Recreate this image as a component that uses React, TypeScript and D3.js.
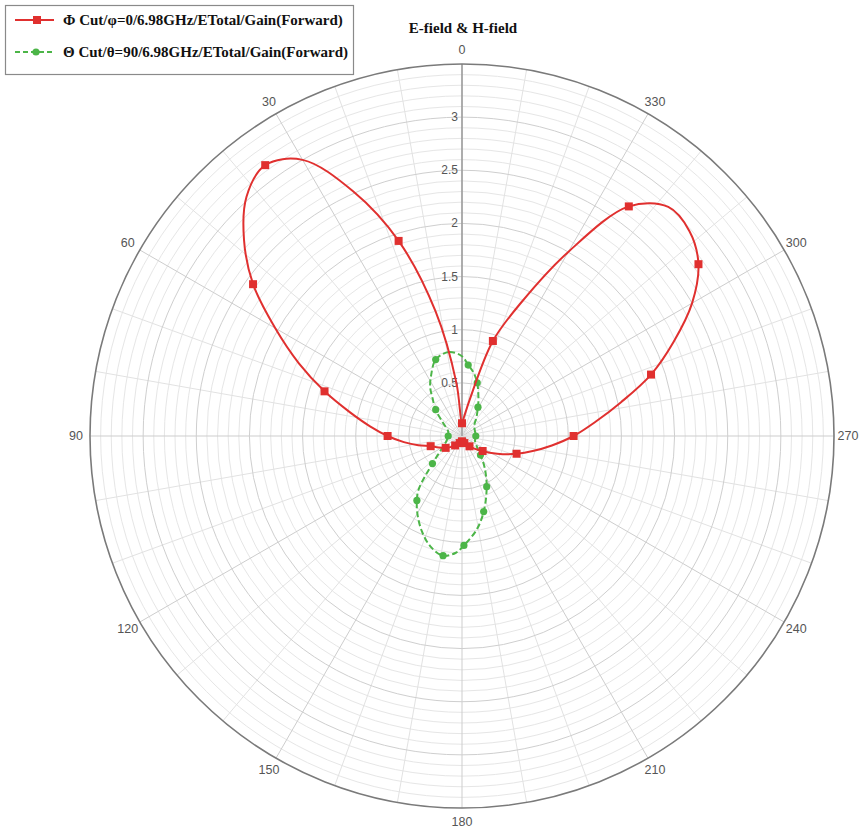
import React from 'react';
import * as d3 from 'd3';

// Canvas and polar frame
const W = 862;
const H = 828;
const CX = 462;
const CY = 436;
const R = 372;
const R_MAX = 3.5;

const TITLE = 'E-field & H-field';
const PHI_LABEL = 'Φ Cut/φ=0/6.98GHz/ETotal/Gain(Forward)';
const THETA_LABEL = 'Θ Cut/θ=90/6.98GHz/ETotal/Gain(Forward)';

// Axis ticks
const angleTicks = [0, 30, 60, 90, 120, 150, 180, 210, 240, 270, 300, 330];
const radialTicks = [0.5, 1, 1.5, 2, 2.5, 3];

// Φ cut (φ = 0): gain sampled every 6°
const phiAngles = [
  0, 6, 12, 18, 24, 30, 36, 42, 48, 54, 60, 66, 72, 78, 84, 90, 96, 102, 108, 114,
  120, 126, 132, 138, 144, 150, 156, 162, 168, 174, 180, 186, 192, 198, 204, 210, 216, 222, 228, 234,
  240, 246, 252, 258, 264, 270, 276, 282, 288, 294, 300, 306, 312, 318, 324, 330, 336, 342, 348, 354,
];
const phiGain = [
  0.12, 0.5, 1.2, 1.93, 2.52, 3.0, 3.15, 3.03, 2.76, 2.43, 2.03, 1.68, 1.36, 1.08, 0.87, 0.7, 0.55, 0.42, 0.31, 0.26,
  0.22, 0.19, 0.16, 0.13, 0.11, 0.09, 0.08, 0.07, 0.06, 0.05, 0.05, 0.05, 0.06, 0.07, 0.08, 0.1, 0.12, 0.15, 0.19, 0.24,
  0.32, 0.42, 0.54, 0.68, 0.85, 1.05, 1.26, 1.53, 1.87, 2.18, 2.5, 2.75, 2.88, 2.9, 2.67, 2.0, 1.38, 0.94, 0.35, 0.18,
];
// Markers are drawn every 18°
const phiMarkerStep = 18;

// Θ cut (θ = 90)
const thetaAngles = [
  0, 9, 19, 27, 33, 38, 45, 55, 70, 90, 110, 125, 133, 141, 145, 150, 157, 164, 171, 177,
  181, 189, 196, 206, 216, 224, 235, 250, 270, 290, 310, 322, 331, 336, 344, 350, 355,
];
const thetaGain = [
  0.75, 0.8, 0.76, 0.64, 0.55, 0.45, 0.35, 0.22, 0.14, 0.13, 0.16, 0.25, 0.38, 0.65, 0.74, 0.84, 0.97, 1.08, 1.14, 1.1,
  1.03, 0.89, 0.74, 0.53, 0.36, 0.25, 0.17, 0.13, 0.13, 0.13, 0.15, 0.22, 0.31, 0.38, 0.52, 0.61, 0.67,
];
const thetaMarked = [
  false, false, true, false, false, false, true, false, false, true, false, false, true, false, true, false, false, false, true, false,
  true, false, true, true, false, true, false, false, true, false, false, false, true, false, true, false, true,
];

const RED = '#e0302f';
const GREEN = '#4cb548';

type Pt = { a: number; v: number };

const rScale = d3.scaleLinear().domain([0, R_MAX]).range([0, R]);
const rad = (deg: number) => (deg * Math.PI) / 180;
// Angles run counter-clockwise from 12 o'clock
const px = (a: number, v: number) => CX - rScale(v) * Math.sin(rad(a));
const py = (a: number, v: number) => CY - rScale(v) * Math.cos(rad(a));

const radialLine = d3
  .lineRadial<Pt>()
  .angle((d) => -rad(d.a))
  .radius((d) => rScale(d.v))
  .curve(d3.curveCatmullRomClosed.alpha(0.5));

export default function App() {
  const phi: Pt[] = phiAngles.map((a, i) => ({ a, v: phiGain[i] }));
  const theta: Pt[] = thetaAngles.map((a, i) => ({ a, v: thetaGain[i] }));

  const minorCircles = d3.range(1, 35).map((k) => k / 10).filter((v) => Math.abs(v * 2 - Math.round(v * 2)) > 1e-6);
  const majorCircles = [0.5, 1, 1.5, 2, 2.5, 3];
  const spokes = d3.range(0, 360, 10);

  const tickFont = 'Arial, "Liberation Sans", sans-serif';
  const serif = '"Liberation Serif", "Times New Roman", serif';

  return (
    <svg
      width={W}
      height={H}
      viewBox={`0 0 ${W} ${H}`}
      style={{ position: 'absolute', left: 0, top: 0, background: '#fff' }}
    >
      <rect x={0} y={0} width={W} height={H} fill="#fff" />

      {/* grid */}
      <g fill="none">
        {minorCircles.map((v) => (
          <circle key={`m${v}`} cx={CX} cy={CY} r={rScale(v)} stroke="#e6e6e6" strokeWidth={1} />
        ))}
        {spokes.map((a) => (
          <line
            key={`s${a}`}
            x1={CX}
            y1={CY}
            x2={px(a, R_MAX)}
            y2={py(a, R_MAX)}
            stroke={a % 30 === 0 ? '#cdcdcd' : '#e2e2e2'}
            strokeWidth={1}
          />
        ))}
        {majorCircles.map((v) => (
          <circle key={`M${v}`} cx={CX} cy={CY} r={rScale(v)} stroke="#cfcfcf" strokeWidth={1} />
        ))}
        <line x1={CX} y1={CY} x2={CX} y2={CY - R} stroke="#9a9a9a" strokeWidth={1.5} />
        <circle cx={CX} cy={CY} r={R} stroke="#7a7a7a" strokeWidth={1.6} />
      </g>

      {/* angle labels */}
      <g fontFamily={tickFont} fontSize={12.5} fill="#555">
        {angleTicks.map((a) => (
          <text key={`a${a}`} x={px(a, R_MAX) - 14 * Math.sin(rad(a))} y={py(a, R_MAX) - 14 * Math.cos(rad(a))} textAnchor="middle" dominantBaseline="central">
            {a}
          </text>
        ))}
      </g>

      {/* radial labels */}
      <g fontFamily={tickFont} fontSize={12} fill="#555">
        {radialTicks.map((v) => (
          <text key={`r${v}`} x={CX - 4} y={CY - rScale(v)} textAnchor="end" dominantBaseline="central">
            {v}
          </text>
        ))}
      </g>

      {/* Θ cut */}
      <g transform={`translate(${CX},${CY})`}>
        <path d={radialLine(theta) || ''} fill="none" stroke={GREEN} strokeWidth={2} strokeDasharray="6,3" />
      </g>
      {theta.map((d, i) =>
        thetaMarked[i] ? <circle key={`tm${i}`} cx={px(d.a, d.v)} cy={py(d.a, d.v)} r={3.6} fill={GREEN} /> : null
      )}

      {/* Φ cut */}
      <g transform={`translate(${CX},${CY})`}>
        <path d={radialLine(phi) || ''} fill="none" stroke={RED} strokeWidth={2} />
      </g>
      {phi
        .filter((d) => d.a % phiMarkerStep === 0)
        .map((d) => (
          <rect key={`pm${d.a}`} x={px(d.a, d.v) - 4} y={py(d.a, d.v) - 4} width={8} height={8} fill={RED} />
        ))}

      {/* title */}
      <text x={463} y={33} textAnchor="middle" fontFamily={serif} fontWeight="bold" fontSize={15} fill="#111">
        {TITLE}
      </text>

      {/* legend */}
      <g>
        <rect x={5.5} y={5.5} width={348} height={69} fill="#fff" stroke="#8a8a8a" strokeWidth={1.2} />
        <line x1={15} y1={20} x2={54} y2={20} stroke={RED} strokeWidth={2} />
        <rect x={33} y={16} width={8} height={8} fill={RED} />
        <text x={63} y={25} fontFamily={serif} fontWeight="bold" fontSize={15} fill="#111">
          {PHI_LABEL}
        </text>
        <line x1={15} y1={52} x2={54} y2={52} stroke={GREEN} strokeWidth={2} strokeDasharray="5,3" />
        <circle cx={36} cy={52} r={3.6} fill={GREEN} />
        <text x={63} y={57} fontFamily={serif} fontWeight="bold" fontSize={15} fill="#111">
          {THETA_LABEL}
        </text>
      </g>
    </svg>
  );
}
